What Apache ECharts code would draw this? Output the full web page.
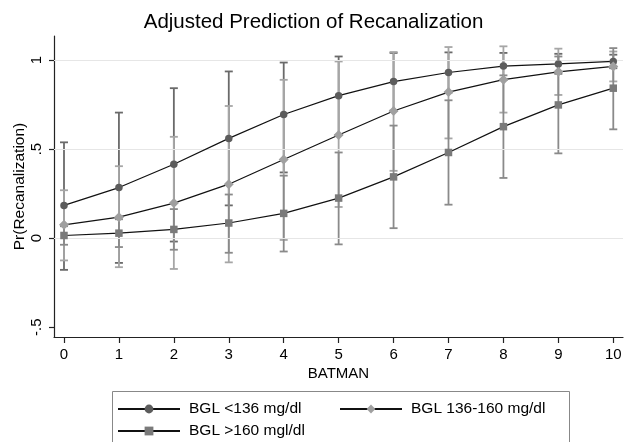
<!DOCTYPE html>
<html><head><meta charset="utf-8">
<script src="https://cdn.jsdelivr.net/npm/echarts@6/dist/echarts.min.js"></script>
<style>html,body{margin:0;padding:0;background:#fff}#c{width:627px;height:442px}</style>
</head><body><div id="c"></div>
<script>
// ---- data ----
const batman = [0, 1, 2, 3, 4, 5, 6, 7, 8, 9, 10];
const yTicks = [-0.5, 0, 0.5, 1];
const yTickLabels = ['-.5', '0', '.5', '1'];
const seriesNames = ['BGL <136 mg/dl', 'BGL 136-160 mg/dl', 'BGL >160 mgl/dl'];

const lowBglPred  = [0.184, 0.284, 0.415, 0.560, 0.694, 0.800, 0.879, 0.930, 0.966, 0.978, 0.992];
const lowBglUpper = [0.538, 0.705, 0.842, 0.936, 0.986, 1.020, 1.040, 1.043, 1.040, 1.035, 1.030];
const lowBglLower = [-0.178, -0.139, -0.019, 0.184, 0.369, 0.580, 0.716, 0.817, 0.888, 0.923, 0.954];

const midBglPred  = [0.075, 0.118, 0.197, 0.303, 0.442, 0.579, 0.714, 0.820, 0.890, 0.934, 0.964];
const midBglUpper = [0.269, 0.404, 0.569, 0.742, 0.889, 0.992, 1.045, 1.073, 1.077, 1.064, 1.048];
const midBglLower = [-0.125, -0.163, -0.173, -0.136, -0.010, 0.175, 0.378, 0.560, 0.705, 0.804, 0.880];

const highBglPred  = [0.015, 0.028, 0.049, 0.085, 0.139, 0.225, 0.344, 0.481, 0.626, 0.748, 0.842];
const highBglUpper = [0.067, 0.106, 0.163, 0.245, 0.351, 0.481, 0.632, 0.774, 0.914, 1.020, 1.067];
const highBglLower = [-0.037, -0.050, -0.065, -0.082, -0.075, -0.035, 0.056, 0.188, 0.338, 0.476, 0.611];

// ---- styling ----
const FONT = '"Liberation Sans", Arial, Helvetica, sans-serif';
const groups = [
  {name: seriesNames[0], pred: lowBglPred,  lo: lowBglLower,  hi: lowBglUpper,  symbol: 'circle',  size: 7.5, mcolor: '#5c5c5c', ecolor: '#6a6a6a'},
  {name: seriesNames[1], pred: midBglPred,  lo: midBglLower,  hi: midBglUpper,  symbol: 'diamond', size: 10,  mcolor: '#a0a0a0', ecolor: '#a6a6a6'},
  {name: seriesNames[2], pred: highBglPred, lo: highBglLower, hi: highBglUpper, symbol: 'rect',    size: 7.5, mcolor: '#7a7a7a', ecolor: '#8a8a8a'}
];

function makeErr(color) {
  return function (params, api) {
    const x = api.value(0), lo = api.value(1), hi = api.value(2);
    const a = api.coord([x, hi]), b = api.coord([x, lo]);
    const hw = 4;
    const st = {stroke: color, lineWidth: 1.8, fill: null};
    return {type: 'group', children: [
      {type: 'line', shape: {x1: a[0], y1: a[1], x2: b[0], y2: b[1]}, style: st},
      {type: 'line', shape: {x1: a[0] - hw, y1: a[1], x2: a[0] + hw, y2: a[1]}, style: st},
      {type: 'line', shape: {x1: b[0] - hw, y1: b[1], x2: b[0] + hw, y2: b[1]}, style: st}
    ]};
  };
}

const series = [];
series.push({
  type: 'line', name: 'gridlines', data: [], silent: true, z: 0,
  markLine: {silent: true, symbol: ['none', 'none'], label: {show: false},
    lineStyle: {color: '#e6e6e6', width: 1.2, type: 'solid'},
    data: [{yAxis: 0}, {yAxis: 0.5}, {yAxis: 1}], animation: false}
});
groups.forEach((g, k) => {
  series.push({
    type: 'custom', name: 'ci' + k, z: 2 + k * 0.1,
    renderItem: makeErr(g.ecolor),
    encode: {x: 0, y: [1, 2]},
    data: batman.map((x, i) => [x, g.lo[i], g.hi[i]])
  });
});
groups.forEach((g, k) => {
  series.push({
    type: 'line', name: g.name, z: 5,
    symbol: g.symbol, symbolSize: g.size, showAllSymbol: true,
    itemStyle: {color: g.mcolor},
    lineStyle: {color: '#111', width: 1.2},
    emphasis: {disabled: true},
    data: batman.map((x, i) => [x, g.pred[i]])
  });
});

const legendCommon = {
  itemWidth: 62, itemHeight: 11, itemGap: 0, padding: 0,
  textStyle: {fontFamily: FONT, fontSize: 15.5, color: '#000', padding: [0, 0, 0, 4]},
  selectedMode: false
};

const option = {
  animation: false,
  backgroundColor: '#fff',
  title: {
    text: 'Adjusted Prediction of Recanalization', left: 'center', top: 12, padding: 0,
    textStyle: {fontFamily: FONT, fontSize: 20.5, fontWeight: 'normal', color: '#000'}
  },
  grid: {left: 54, right: 4, top: 36, bottom: 105, containLabel: false, outerBoundsMode: 'none'},
  xAxis: {
    type: 'value', min: -0.182, max: 10.177,
    name: 'BATMAN', nameLocation: 'middle', nameGap: 29, nameMoveOverlap: false,
    nameTextStyle: {fontFamily: FONT, fontSize: 15, color: '#000'},
    axisLine: {show: true, onZero: false, lineStyle: {color: '#222', width: 1.2}},
    axisTick: {show: true, length: 6, customValues: batman, lineStyle: {color: '#222', width: 1.2}},
    axisLabel: {customValues: batman, fontFamily: FONT, fontSize: 15, color: '#000', margin: 10,
      showMinLabel: true, showMaxLabel: true, hideOverlap: false},
    splitLine: {show: false}
  },
  yAxis: {
    type: 'value', min: -0.555, max: 1.135,
    name: 'Pr(Recanalization)', nameLocation: 'middle', nameGap: 26, nameRotate: 90, nameMoveOverlap: false,
    nameTextStyle: {fontFamily: FONT, fontSize: 15.5, color: '#000'},
    axisLine: {show: true, onZero: false, lineStyle: {color: '#222', width: 1.2}},
    axisTick: {show: true, length: 5, customValues: yTicks, lineStyle: {color: '#222', width: 1.2}},
    axisLabel: {customValues: yTicks, rotate: 90, fontFamily: FONT, fontSize: 15, color: '#000', margin: 10,
      formatter: v => { const i = yTicks.findIndex(t => Math.abs(t - v) < 1e-9); return i >= 0 ? yTickLabels[i] : ''; },
      showMinLabel: true, showMaxLabel: true, hideOverlap: false},
    splitLine: {show: false}
  },
  legend: [
    Object.assign({}, legendCommon, {data: [seriesNames[0]], left: 117, top: 401}),
    Object.assign({}, legendCommon, {data: [seriesNames[1]], left: 339, top: 401}),
    Object.assign({}, legendCommon, {data: [seriesNames[2]], left: 117, top: 423})
  ],
  graphic: [{
    type: 'rect', left: 110, top: 389, silent: true, z: -1,
    shape: {width: 457, height: 80},
    style: {fill: null, stroke: '#888', lineWidth: 1}
  }],
  series: series
};

const chart = echarts.init(document.getElementById('c'), null, {renderer: 'canvas'});
chart.setOption(option);
</script>
</body></html>
